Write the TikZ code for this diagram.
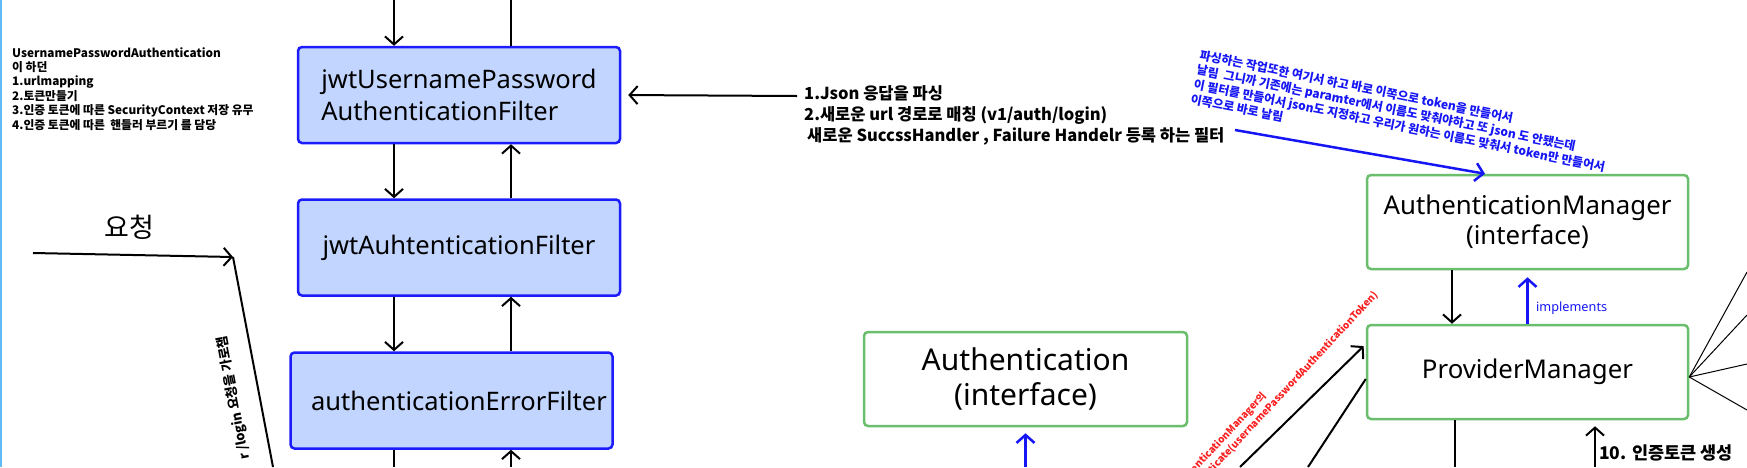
\documentclass[tikz,border=0pt]{standalone}
\usepackage{fontspec}
\setmainfont{Noto Sans}
\newfontfamily\kr{Noto Sans CJK KR}
\usetikzlibrary{arrows.meta}

\definecolor{filterline}{RGB}{28,28,250}
\definecolor{filterfill}{RGB}{194,213,255}
\definecolor{ifaceline}{RGB}{106,190,108}
\definecolor{noteblue}{RGB}{22,22,245}
\definecolor{notered}{RGB}{250,32,32}
\definecolor{edgeblue}{RGB}{96,186,245}

\begin{document}
\begin{tikzpicture}[x=1pt, y=-1pt, >={Straight Barb[length=8pt,width=18pt]},
    filterbox/.style={draw=filterline, fill=filterfill, line width=2.5pt, rounded corners=4pt,
      minimum width=322pt, minimum height=96pt, inner sep=0pt, align=left,
      font=\fontsize{25.5}{32}\selectfont},
    ifacebox/.style={draw=ifaceline, fill=white, line width=2.5pt, rounded corners=4pt,
      minimum width=321pt, minimum height=94pt, inner sep=0pt, align=center,
      font=\fontsize{25.8}{30}\selectfont},
    flow/.style={->, line width=2pt},
    implflow/.style={->, line width=2.5pt, noteblue},
    fanline/.style={line width=1pt}]
    \useasboundingbox (0,0) rectangle (1747,467);
    \clip (0,0) rectangle (1747,467);
    \draw[edgeblue, line width=2pt] (1,0) -- (1,467);

    % Request
    \coordinate (reqStart) at (33,253);
    \coordinate (reqTurn) at (233,257);
    \coordinate (reqEnd) at (273,467);
    \node[font=\kr\fontsize{27}{32}\selectfont] (reqLabel) at (129,227) {요청};
    \draw[flow] (reqStart) -- (reqTurn);
    \draw[line width=2pt] (reqTurn) -- (reqEnd);
    \node[rotate=100.8, anchor=east, inner sep=0pt, font=\kr\bfseries\fontsize{13}{15}\selectfont] (loginLabel) at (222,336) {r /login 요청을 가로챔};

    % Notes
    \node[anchor=north west, inner sep=0pt, align=left, font=\kr\bfseries\fontsize{11.8}{14.4}\selectfont] (filterNote) at (12,47) {UsernamePasswordAuthentication\\이 하던\\1.urlmapping\\2.토큰만들기\\3.인증 토큰에 따른 SecurityContext 저장 유무\\4.인증 토큰에 따른~ 핸들러 부르기 를 담당};

    % Filters
    \node[filterbox] (jwtLogin) at (459,95) {jwtUsernamePassword\\AuthenticationFilter};
    \node[filterbox] (jwtAuth) at (459,247.5) {jwtAuhtenticationFilter};
    \node[filterbox] (authError) at (451.5,400.5) {\hspace*{15pt}authenticationErrorFilter};
    \coordinate (downX) at (394,0);
    \coordinate (upX) at (511,0);
    \coordinate (downEnd) at (394,467);
    \coordinate (upStart) at (511,467);
    \draw[flow] (downX) -- (jwtLogin.north -| downX);
    \draw[line width=2pt] (jwtLogin.north -| upX) -- (upX);
    \draw[flow] (jwtLogin.south -| downX) -- (jwtAuth.north -| downX);
    \draw[flow] (jwtAuth.north -| upX) -- (jwtLogin.south -| upX);
    \draw[flow] (jwtAuth.south -| downX) -- (authError.north -| downX);
    \draw[flow] (authError.north -| upX) -- (jwtAuth.south -| upX);
    \draw[line width=2pt] (authError.south -| downX) -- (downEnd);
    \draw[flow] (upStart) -- (authError.south -| upX);

    % Json note
    \node[anchor=north west, inner sep=0pt, align=left, font=\kr\bfseries\fontsize{16.5}{21}\selectfont] (jsonNote) at (804,85) {1.Json 응답을 파싱\\2.새로운 url 경로로 매칭 (v1/auth/login)\\\hspace*{3pt}새로운 SuccssHandler , Failure Handelr 등록 하는 필터};
    \coordinate (jsonTail) at (797,96);
    \draw[flow, shorten >=7pt] (jsonTail) -- (jwtLogin.east);

    \node[rotate=-11.5, anchor=north west, inner sep=0pt, align=left, text=noteblue, font=\kr\bfseries\fontsize{12}{15}\selectfont] (tokenNote) at (1201,49) {파싱하는 작업또한 여기서 하고 바로 이쪽으로 token을 만들어서\\날림~ 그니까 기존에는 paramter에서 이름도 맞춰야하고 또 json 도 안됐는데\\이 필터를 만들어서 json도 지정하고 우리가 원하는 이름도 맞춰서 token만 만들어서\\이쪽으로 바로 날림};

    % Interfaces
    \node[ifacebox] (authManager) at (1527.5,222) {AuthenticationManager\\(interface)};
    \node[ifacebox] (providerManager) at (1527.5,372) {ProviderManager};
    \node[ifacebox, minimum width=323pt, font=\fontsize{30}{35}\selectfont] (authentication) at (1025.5,379) {Authentication\\(interface)};

    \coordinate (noteTail) at (1235,130);
    \coordinate (noteHead) at (1485,0);
    \draw[implflow] (noteTail) -- (authManager.north -| noteHead);
    \coordinate (amDown) at (1452,0);
    \draw[flow] (authManager.south -| amDown) -- (providerManager.north -| amDown);
    \draw[implflow, shorten >=7pt] (providerManager.north) -- (authManager.south);
    \node[anchor=west, inner sep=0pt, text=noteblue, font=\fontsize{12.7}{15}\selectfont] (implLabel) at (1536,308) {implements};

    % Call into ProviderManager
    \node[rotate=47, anchor=south east, inner sep=0pt, align=left, text=notered, font=\kr\bfseries\fontsize{10}{13}\selectfont] (callNote) at (1380,297) {AuthenticationManager의\\authenticate(usernamePasswordAuthenticationToken)};
    \coordinate (callTail) at (1240,467);
    \coordinate (returnEnd) at (1308,467);
    \draw[flow, shorten >=3pt] (callTail) -- ([yshift=28pt]providerManager.west);
    \draw[line width=2pt] ([yshift=-7pt]providerManager.west) -- (returnEnd);

    \coordinate (fanA) at (1747,272);
    \coordinate (fanB) at (1747,315);
    \coordinate (fanC) at (1747,364);
    \coordinate (fanD) at (1747,410);
    \foreach \f in {fanA,fanB,fanC,fanD}
      \draw[fanline] ([yshift=-5pt]providerManager.east) -- (\f);

    \coordinate (pmDown) at (1455,467);
    \coordinate (pmUp) at (1595,467);
    \draw[line width=2pt] (providerManager.south -| pmDown) -- (pmDown);
    \draw[flow, shorten >=6pt] (pmUp) -- (providerManager.south -| pmUp);
    \node[anchor=west, inner sep=0pt, font=\kr\bfseries\fontsize{17.5}{20}\selectfont] (tokenLabel) at (1599,453) {10. 인증토큰 생성};

    \coordinate (authUp) at (1025.5,467);
    \draw[implflow, shorten >=6pt] (authUp) -- (authentication.south);
\end{tikzpicture}
\end{document}
